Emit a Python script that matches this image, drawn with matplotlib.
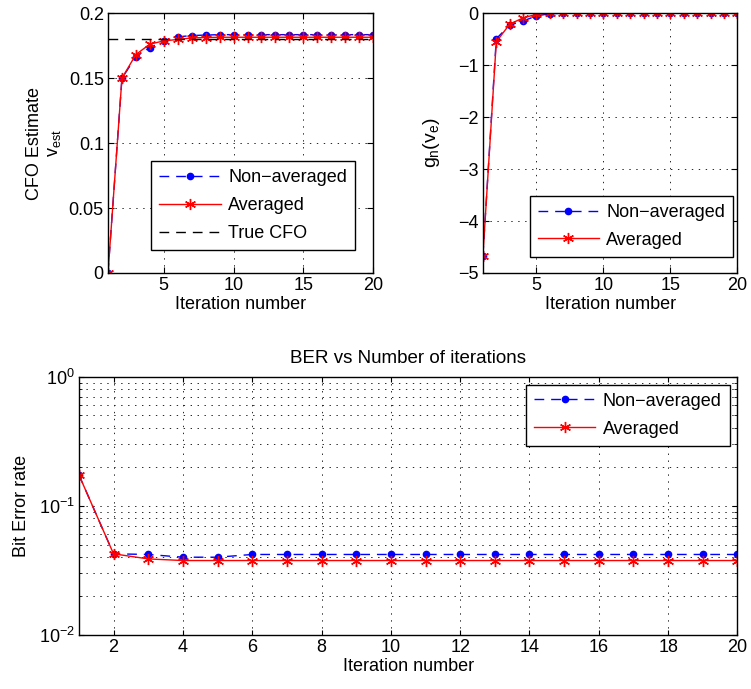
import numpy as np
import matplotlib.pyplot as plt

plt.rcParams['font.family'] = ['Liberation Sans', 'DejaVu Sans']
plt.rcParams['mathtext.fontset'] = 'custom'
plt.rcParams['mathtext.rm'] = 'Liberation Sans'
plt.rcParams['mathtext.it'] = 'Liberation Sans'
plt.rcParams['lines.scale_dashes'] = False

iterations = np.arange(1, 21)

cfo_nonavg = [0.0, 0.150, 0.1664, 0.1736, 0.1787, 0.1818, 0.1828, 0.1832, 0.1835, 0.1835,
              0.1835, 0.1835, 0.1835, 0.1835, 0.1835, 0.1835, 0.1835, 0.1835, 0.1835, 0.1835]
cfo_avg = [0.0, 0.150, 0.1682, 0.1762, 0.1787, 0.1798, 0.1810, 0.1813, 0.1815, 0.1815,
           0.1815, 0.1815, 0.1815, 0.1815, 0.1815, 0.1815, 0.1815, 0.1815, 0.1815, 0.1815]
true_cfo = 0.1805

g_nonavg = [-4.67, -0.49, -0.23, -0.15, -0.05, -0.01, 0, 0, 0, 0,
            0, 0, 0, 0, 0, 0, 0, 0, 0, 0]
g_avg = [-4.67, -0.55, -0.21, -0.09, -0.02, 0, 0, 0, 0, 0,
         0, 0, 0, 0, 0, 0, 0, 0, 0, 0]

ber_nonavg = [0.174, 0.0425, 0.042, 0.040, 0.040, 0.042, 0.042, 0.042, 0.042, 0.042,
              0.042, 0.042, 0.042, 0.042, 0.042, 0.042, 0.042, 0.042, 0.042, 0.042]
ber_avg = [0.174, 0.0425, 0.0388, 0.0377, 0.0377, 0.0377, 0.0377, 0.0377, 0.0377, 0.0377,
           0.0377, 0.0377, 0.0377, 0.0377, 0.0377, 0.0377, 0.0377, 0.0377, 0.0377, 0.0377]

fs = 13
star = (6, 2, 0)
grid_style = dict(linestyle=(0, (1, 4)), color='0.15', linewidth=0.7)
leg_style = dict(fontsize=fs, fancybox=False, edgecolor='black', framealpha=1,
                 handlelength=3.4, borderpad=0.45, labelspacing=0.6, numpoints=1,
                 handletextpad=0.4, borderaxespad=0)

fig = plt.figure(figsize=(7.51, 6.89), dpi=100)
ax1 = fig.add_axes([0.1438, 0.6038, 0.353, 0.377])
ax2 = fig.add_axes([0.643, 0.6038, 0.339, 0.377])
ax3 = fig.add_axes([0.105, 0.0784, 0.877, 0.375])

def style(ax):
    ax.grid(True, **grid_style)
    ax.tick_params(direction='in', labelsize=fs, top=True, right=True, length=4, pad=3)
    for s in ax.spines.values():
        s.set_linewidth(1.0)

def plot_pair(ax, x, a, b, log=False):
    f = ax.semilogy if log else ax.plot
    f(x, a, color='blue', marker='.', markersize=9, linestyle=(0, (7, 5)), linewidth=1,
      label='Non\u2212averaged')
    f(x, b, color='red', marker=star, markersize=8, markeredgewidth=1, linestyle='-',
      linewidth=1, label='Averaged')

# top-left
plot_pair(ax1, iterations, cfo_nonavg, cfo_avg)
ax1.axhline(true_cfo, color='black', linestyle=(0, (7, 5)), linewidth=1, label='True CFO')
ax1.set_xlim(1, 20)
ax1.set_ylim(0, 0.2)
ax1.set_xticks([5, 10, 15, 20])
ax1.set_yticks([0, 0.05, 0.1, 0.15, 0.2])
ax1.set_yticklabels(['0', '0.05', '0.1', '0.15', '0.2'])
ax1.set_xlabel('Iteration number', fontsize=fs, labelpad=1)
ax1.set_ylabel('CFO Estimate\n$v_{est}$', fontsize=fs, labelpad=4)
style(ax1)
ax1.legend(loc='lower right', bbox_to_anchor=(0.932, 0.088), **leg_style)

# top-right
plot_pair(ax2, iterations, g_nonavg, g_avg)
ax2.set_xlim(1, 20)
ax2.set_ylim(-5, 0)
ax2.set_xticks([5, 10, 15, 20])
ax2.set_yticks([-5, -4, -3, -2, -1, 0])
ax2.set_yticklabels(['\u22125', '\u22124', '\u22123', '\u22122', '\u22121', '0'])
ax2.set_xlabel('Iteration number', fontsize=fs, labelpad=1)
ax2.set_ylabel('$g_n(v_e)$', fontsize=fs + 1, labelpad=12)
style(ax2)
ax2.legend(loc='lower right', bbox_to_anchor=(0.984, 0.062), **leg_style)

# bottom
plot_pair(ax3, iterations, ber_nonavg, ber_avg, log=True)
ax3.set_xlim(1, 20)
ax3.set_ylim(1e-2, 1)
ax3.set_xticks(np.arange(2, 21, 2))
ax3.set_xlabel('Iteration number', fontsize=fs, labelpad=1)
ax3.set_ylabel('Bit Error rate', fontsize=fs, labelpad=6)
ax3.set_title('BER vs Number of iterations', fontsize=13.5, pad=10)
ax3.grid(True, which='both', **grid_style)
ax3.tick_params(which='both', direction='in', labelsize=fs, top=True, right=True, pad=3)
for s in ax3.spines.values():
    s.set_linewidth(1.0)
ax3.legend(loc='upper right', bbox_to_anchor=(0.988, 0.969), **leg_style)

fig.savefig('out.png', dpi=100)
